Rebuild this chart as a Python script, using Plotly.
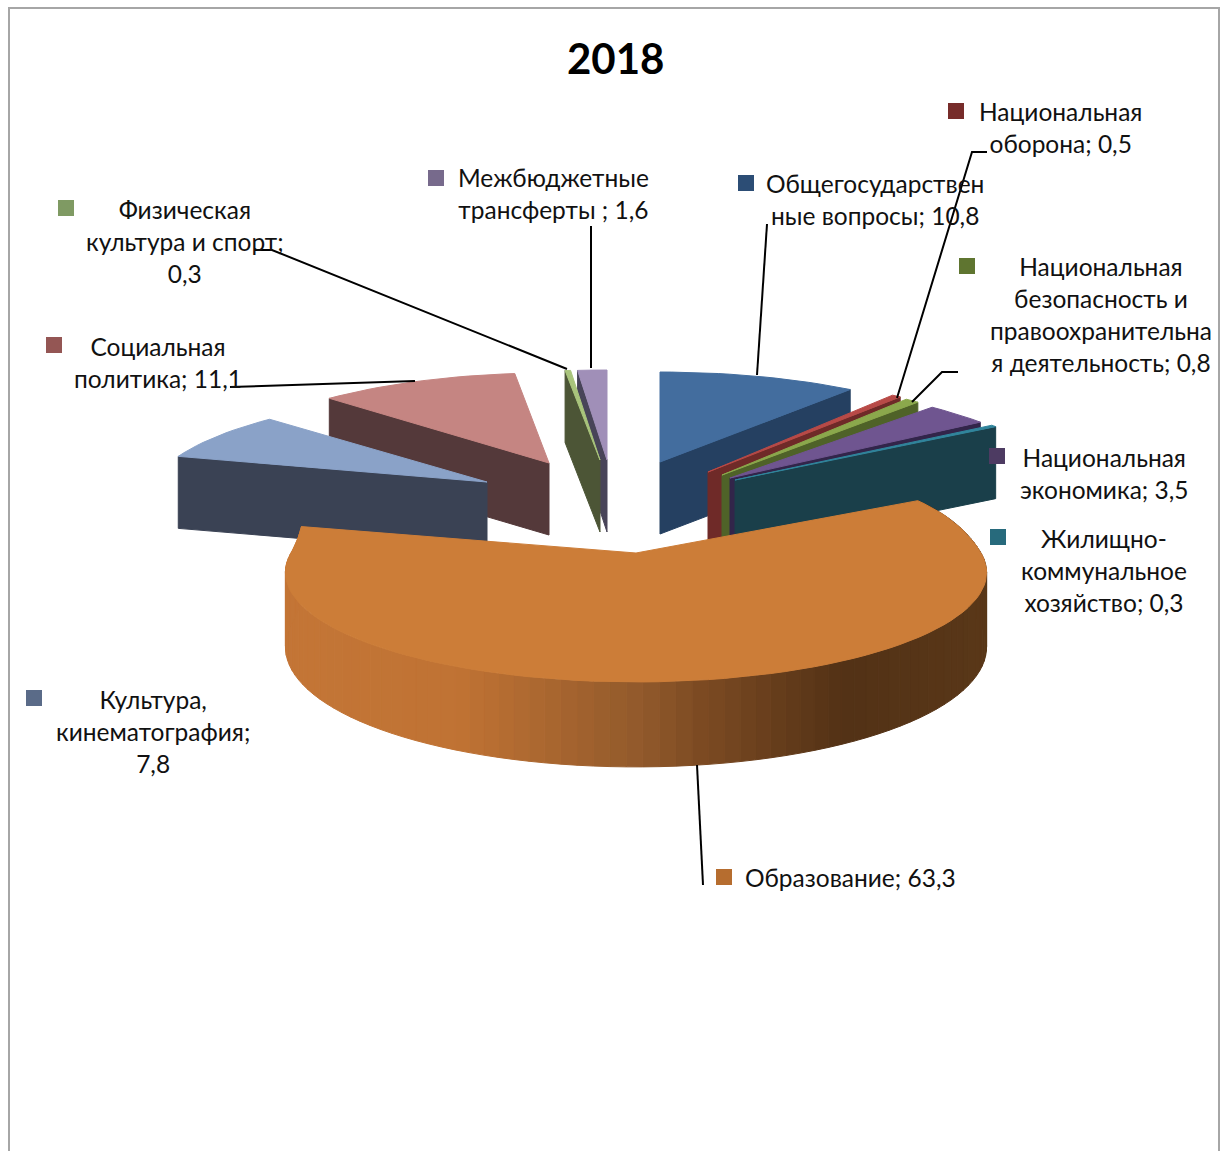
import math
import plotly.graph_objects as go

# ---- data ----
TITLE = "2018"
categories = ["Общегосударственные вопросы", "Национальная оборона",
              "Национальная безопасность и правоохранительная деятельность",
              "Национальная экономика", "Жилищно-коммунальное хозяйство",
              "Образование", "Культура, кинематография", "Социальная политика",
              "Физическая культура и спорт", "Межбюджетные трансферты"]
values = [10.8, 0.5, 0.8, 3.5, 0.3, 63.3, 7.8, 11.1, 0.3, 1.6]
label_lines = [
    "Общегосударствен<br>ные вопросы; 10,8",
    "Национальная<br>оборона; 0,5",
    "Национальная<br>безопасность и<br>правоохранительна<br>я деятельность; 0,8",
    "Национальная<br>экономика; 3,5",
    "Жилищно-<br>коммунальное<br>хозяйство; 0,3",
    "Образование; 63,3",
    "Культура,<br>кинематография;<br>7,8",
    "Социальная<br>политика; 11,1",
    "Физическая<br>культура и спорт;<br>0,3",
    "Межбюджетные<br>трансферты ; 1,6",
]

# ---- styling ----
top_colors = ["#436d9e", "#b84a47", "#8ba84c", "#6f5590", "#31859c",
              "#cc7d38", "#8aa2c8", "#c58582", "#a9c47c", "#a08fb8"]
side_colors = ["#254061", "#6f2a28", "#4f6228", "#32254a", "#1a3f4a",
               "#8f5a2a", "#3a4254", "#54393a", "#4c5536", "#484458"]
key_colors = ["#2c4d75", "#772c2a", "#5f7530", "#4d3b62", "#276a7c",
              "#b66d2f", "#5a6b88", "#945654", "#7f9a63", "#776a8c"]
# explosion of each slice from the pie centre, radius scales, and which radial wall shows
CENTER = (632, 500)
explode = [(28, -38), (76, -28), (90, -25), (98, -22), (103, -20),
           (4, 53), (-145, -18), (-83, -37), (-32, -40), (-25, -40)]
radius_x = [1.0, 0.97, 0.93, 0.96, 0.985, 1.0, 0.97, 0.98, 1.0, 1.0]
radius_y = [1.0, 1.06, 1.07, 1.04, 1.02, 1.0, 0.97, 1.0, 1.0, 1.0]
wall_side = ["end", "end", "end", "end", "end", None, "start", "start", "start", "start"]
draw_order = [9, 8, 7, 6, 0, 1, 2, 3, 4, 5]
label_pos = [(875, 199), (1060, 127.5), (1101, 314), (1104, 473), (1104, 570),
             (850, 877), (153, 731), (158, 362), (185, 241), (553, 193.5)]
key_pos = [(746, 183), (956, 111), (967, 266), (997, 456), (998, 537),
           (724, 877), (34, 698), (54, 345), (66, 208), (436, 178)]
leaders = [[(757, 375), (767, 224)],
           [(897, 398), (972, 152), (987, 152)],
           [(912, 402), (942, 372), (958, 372)],
           None, None,
           [(697, 765), (703, 885)],
           None,
           [(415, 381), (240, 387), (230, 387)],
           [(567, 369), (272, 250), (255, 250)],
           [(591, 368), (591, 226)]]
rim_stops = [(285, (196, 118, 55)), (460, (192, 115, 52)), (640, (146, 90, 44)),
             (700, (125, 75, 35)), (842, (83, 50, 22)), (990, (90, 56, 25))]
FONT = "Lato, Carlito, Calibri, sans-serif"

# ---- projection of the pie plane (perspective) ----
RX, RY, K, H, H_TILT = 345, 106, 0.178, 72, 0.18


def project(theta, r, idx, z=0.0):
    s, c = math.sin(theta), math.cos(theta)
    w = 1 + K * c * r
    back = 1
    if idx == 5:
        back = 1 + (0.22 if s > 0 else 0.75) * max(c, 0) ** 2
    x = CENTER[0] + explode[idx][0] + RX * radius_x[idx] * s * r / w * back
    y = CENTER[1] + explode[idx][1] - RY * radius_y[idx] * c * r / w
    return x, y + z * H * (1 - H_TILT * min(c * r, 0))


def poly(fig, pts, color):
    xs = [p[0] for p in pts] + [pts[0][0]]
    ys = [p[1] for p in pts] + [pts[0][1]]
    fig.add_trace(go.Scatter(x=xs, y=ys, mode="lines", fill="toself", fillcolor=color,
                             line=dict(color=color, width=1), hoverinfo="skip",
                             showlegend=False))


def rim_color(x):
    for (x0, c0), (x1, c1) in zip(rim_stops, rim_stops[1:]):
        if x <= x1:
            t = max(0, (x - x0) / (x1 - x0))
            return "rgb(%d,%d,%d)" % tuple(a + (b - a) * t for a, b in zip(c0, c1))
    return "rgb(%d,%d,%d)" % rim_stops[-1][1]


fig = go.Figure()
total = sum(values)
starts, acc = [], 0.0
for v in values:
    starts.append(acc / total * 2 * math.pi)
    acc += v

for i in draw_order:
    a0 = starts[i]
    a1 = a0 + values[i] / total * 2 * math.pi
    n = max(2, int(values[i] * 1.6))
    angles = [a0 + (a1 - a0) * j / n for j in range(n + 1)]
    if wall_side[i] is not None:
        a = a1 if wall_side[i] == "end" else a0
        poly(fig, [project(a, 0, i), project(a, 1, i), project(a, 1, i, 1), project(a, 0, i, 1)],
             side_colors[i])
    else:
        for a, b in zip(angles, angles[1:]):
            p, q = project(a, 1, i), project(b, 1, i)
            poly(fig, [p, q, project(b, 1, i, 1), project(a, 1, i, 1)],
                 rim_color((p[0] + q[0]) / 2))
    poly(fig, [project(a0, 0, i)] + [project(a, 1, i) for a in angles], top_colors[i])

for line in leaders:
    if line:
        fig.add_trace(go.Scatter(x=[p[0] for p in line], y=[p[1] for p in line], mode="lines",
                                 line=dict(color="#000000", width=2), hoverinfo="skip",
                                 showlegend=False))

fig.add_trace(go.Scatter(
    x=[p[0] for p in key_pos], y=[p[1] for p in key_pos], mode="markers",
    marker=dict(symbol="square", size=16, color=key_colors, line=dict(width=0)),
    hovertext=categories, hoverinfo="text", showlegend=False))

annotations = [dict(x=615, y=58, text=TITLE, showarrow=False, xanchor="center", yanchor="middle",
                    font=dict(family=FONT, size=42, color="#000000", weight="bold"))]
for txt, (lx, ly) in zip(label_lines, label_pos):
    annotations.append(dict(x=lx, y=ly, text=txt, showarrow=False, xanchor="center",
                            yanchor="middle", align="center",
                            font=dict(family=FONT, size=24.5, color="#111111")))

fig.update_layout(
    width=1227, height=1151, margin=dict(l=0, r=0, t=0, b=0),
    paper_bgcolor="#ffffff", plot_bgcolor="#ffffff",
    xaxis=dict(range=[0, 1227], visible=False, fixedrange=True),
    yaxis=dict(range=[1151, 0], visible=False, fixedrange=True),
    annotations=annotations,
    shapes=[dict(type="rect", x0=9, y0=8, x1=1219, y1=1170,
                 line=dict(color="#a6a6a6", width=2), layer="below")],
)
fig.write_html("out.html", config={"displayModeBar": False},
               post_script="document.body.style.margin='0';document.documentElement.style.overflow='hidden';")
